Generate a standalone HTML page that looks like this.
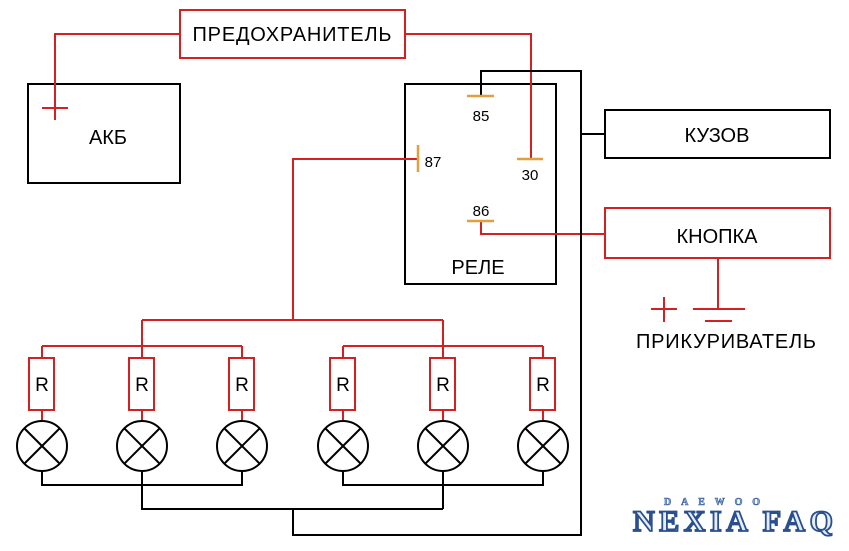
<!DOCTYPE html>
<html><head><meta charset="utf-8"><style>
body{margin:0;background:#fff}
svg{display:block}
text{font-family:"Liberation Sans",sans-serif;fill:#000}
</style></head><body>
<svg width="849" height="551" viewBox="0 0 849 551" xmlns="http://www.w3.org/2000/svg">
<g fill="none" stroke-width="2">
<rect x="180" y="10" width="225" height="48" stroke="#d42020"/>
<rect x="28" y="84" width="152" height="99" stroke="#000"/>
<rect x="405" y="84" width="151" height="200" stroke="#000"/>
<rect x="605" y="110" width="225" height="48" stroke="#000"/>
<rect x="605" y="208" width="225" height="50" stroke="#d42020"/>
<path d="M180 34 H55 V100 M405 34 H531 V159 M418 159 H293 V320 M481 221 V234 H605 M718 258 V309" stroke="#d42020"/>
<path d="M42 108 H68 M55 96 V120 M651 309 H677 M664 297 V322 M693 309 H745 M705 321 H732" stroke="#d42020"/>
<path d="M142 320 H443 M142 320 V346 M443 320 V346 M42 346 H242 M343 346 H543 M42 346 V358 M142 346 V358 M242 346 V358 M343 346 V358 M443 346 V358 M543 346 V358 M42 410 V421 M142 410 V421 M242 410 V421 M343 410 V421 M443 410 V421 M543 410 V421" stroke="#d42020"/>
<g stroke="#d42020">
<rect x="29" y="358" width="25" height="52"/><rect x="129" y="358" width="25" height="52"/><rect x="229" y="358" width="25" height="52"/>
<rect x="330" y="358" width="25" height="52"/><rect x="430" y="358" width="25" height="52"/><rect x="530" y="358" width="25" height="52"/>
</g>
<path d="M481 96 V71 H581 V535 H293 V509 M581 134 H605 M42 472 V485 H242 V472 M142 472 V509 H443 M343 472 V485 H543 V472 M443 472 V509" stroke="#000"/>
<g stroke="#000">
<circle cx="42" cy="446" r="25"/><circle cx="142" cy="446" r="25"/><circle cx="242" cy="446" r="25"/>
<circle cx="343" cy="446" r="25"/><circle cx="443" cy="446" r="25"/><circle cx="543" cy="446" r="25"/>
<path d="M24 428 L60 464 M60 428 L24 464 M124 428 L160 464 M160 428 L124 464 M224 428 L260 464 M260 428 L224 464 M325 428 L361 464 M361 428 L325 464 M425 428 L461 464 M461 428 L425 464 M525 428 L561 464 M561 428 L525 464"/>
</g>
<path d="M467 96 H494 M418 145 V172 M517 159 H543 M467 221 H494" stroke="#e0a040" stroke-width="2.5"/>
</g>
<text x="292" y="41" font-size="20" text-anchor="middle" textLength="199">ПРЕДОХРАНИТЕЛЬ</text>
<text x="108" y="144" font-size="20" text-anchor="middle">АКБ</text>
<text x="717" y="142" font-size="20" text-anchor="middle">КУЗОВ</text>
<text x="717" y="243" font-size="20" text-anchor="middle">КНОПКА</text>
<text x="726" y="348" font-size="20" text-anchor="middle" textLength="180">ПРИКУРИВАТЕЛЬ</text>
<text x="478" y="274" font-size="20" text-anchor="middle">РЕЛЕ</text>
<text x="481" y="121" font-size="15" text-anchor="middle">85</text>
<text x="433" y="167" font-size="15" text-anchor="middle">87</text>
<text x="530" y="180" font-size="15" text-anchor="middle">30</text>
<text x="481" y="216" font-size="15" text-anchor="middle">86</text>
<g font-size="19" text-anchor="middle">
<text x="42" y="391">R</text><text x="142" y="391">R</text><text x="242" y="391">R</text>
<text x="343" y="391">R</text><text x="443" y="391">R</text><text x="543" y="391">R</text>
</g>
<text x="712" y="505" font-size="10" text-anchor="middle" textLength="96" style="font-family:'Liberation Serif',serif;fill:#8fb0dc;stroke:#3a5f9f;stroke-width:0.6;font-weight:bold">DAEWOO</text>
<text x="733" y="531" font-size="30" text-anchor="middle" textLength="200" style="font-family:'Liberation Serif',serif;fill:#e4edf8;stroke:#2a4f8f;stroke-width:1.8;font-weight:bold">NEXIA FAQ</text>
</svg>
</body></html>
